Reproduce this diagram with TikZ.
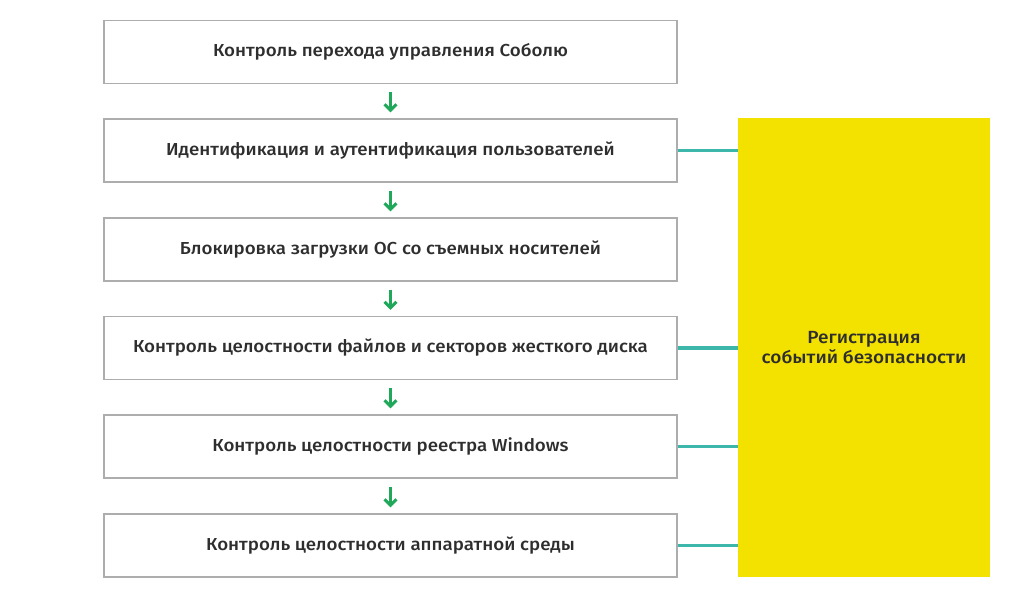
\documentclass[tikz,border=0pt]{standalone}
\usepackage{fontspec}
\setmainfont{Fira Sans Medium}[FakeStretch=1.08]
\usepackage{xcolor}
\definecolor{boxline}{HTML}{ADADAD}
\definecolor{arrowgreen}{HTML}{1FA75A}
\definecolor{linkteal}{HTML}{3DB7AA}
\definecolor{regyellow}{HTML}{F3E100}
\definecolor{textgrey}{HTML}{2E2E2E}
\usetikzlibrary{arrows.meta}

\begin{document}
\begin{tikzpicture}[x=0.75pt,y=-0.75pt,
    stage/.style={draw=boxline,line width=1pt,minimum width=429.75pt,minimum height=47.25pt,
        inner sep=0pt,text=textgrey,font=\fontsize{13}{15}\selectfont},
    reg/.style={fill=regyellow,minimum width=189pt,minimum height=344.25pt,inner sep=0pt,
        text=textgrey,align=center,font=\fontsize{13.2}{15.6}\selectfont},
    next/.style={draw=arrowgreen,line width=2.2pt,-{Straight Barb[length=4.5pt,width=9pt]},
        shorten <=6pt,shorten >=4.5pt},
    link/.style={draw=linkteal,line width=2.4pt}]
    \useasboundingbox (0,0) rectangle (1024,596);

    \node[stage] (s1) at (390.5,52) {Контроль перехода управления Соболю};
    \node[stage] (s2) at (390.5,150.5) {Идентификация и аутентификация пользователей};
    \node[stage] (s3) at (390.5,249.5) {Блокировка загрузки ОС со съемных носителей};
    \node[stage] (s4) at (390.5,348) {Контроль целостности файлов и секторов жесткого диска};
    \node[stage] (s5) at (390.5,446.5) {Контроль целостности реестра Windows};
    \node[stage] (s6) at (390.5,545.5) {Контроль целостности аппаратной среды};

    \node[reg] (log) at (864,347.5) {Регистрация\\событий безопасности};

    \draw[next] (s1) -- (s2);
    \draw[next] (s2) -- (s3);
    \draw[next] (s3) -- (s4);
    \draw[next] (s4) -- (s5);
    \draw[next] (s5) -- (s6);

    \draw[link] (s2.east) -- (s2.east -| log.west);
    \draw[link] (s4.east) -- (s4.east -| log.west);
    \draw[link] (s5.east) -- (s5.east -| log.west);
    \draw[link] (s6.east) -- (s6.east -| log.west);
\end{tikzpicture}
\end{document}
